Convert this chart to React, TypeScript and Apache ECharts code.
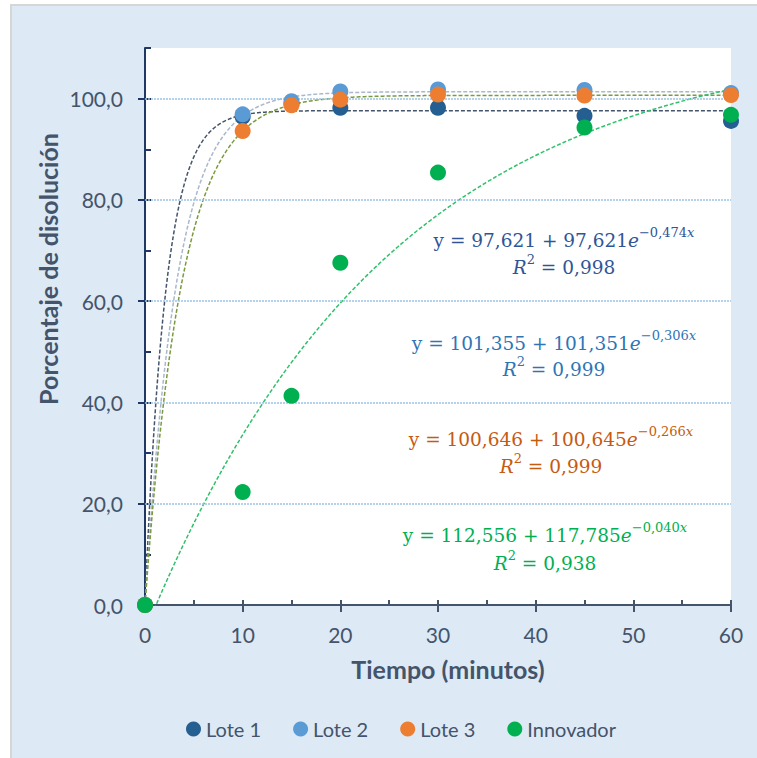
import React, { useEffect, useRef } from 'react';
import * as echarts from 'echarts';

// Sampling times (minutes)
const times = [0, 10, 15, 20, 30, 45, 60];
// Dissolution percentages
const lote1 = [0, 96.4, 99.0, 98.2, 98.2, 96.6, 95.6];
const lote2 = [0, 96.9, 99.5, 101.4, 101.8, 101.7, 101.1];
const lote3 = [0, 93.6, 98.7, 99.8, 100.8, 100.6, 100.7];
const innovador = [0, 22.3, 41.3, 67.6, 85.4, 94.3, 96.8];

const seriesNames = ['Lote 1', 'Lote 2', 'Lote 3', 'Innovador'];
const markerColors = ['#255e91', '#5b9bd5', '#ed7d31', '#00b050'];
const trendColors = ['#44546a', '#a9b8cc', '#7a9a3e', '#2fc06a'];
const eqColors = ['#2f5597', '#2e75b6', '#c55a11', '#00b050'];

// Fitted trend parameters shown on the chart: y = a - b e^(-k x)
const trendA = [97.621, 101.355, 100.646, 112.556];
const trendB = [97.621, 101.351, 100.645, 117.785];
const trendK = [0.474, 0.306, 0.266, 0.040];
const eqA = ['97,621', '101,355', '100,646', '112,556'];
const eqB = ['97,621', '101,351', '100,645', '117,785'];
const eqK = ['0,474', '0,306', '0,266', '0,040'];
const eqR2 = ['0,998', '0,999', '0,999', '0,938'];

const yLabelValues = [0, 20, 40, 60, 80, 100];
const gridValues = [20, 40, 60, 80, 100];

const eqPos = [
  [564, 240, 267],
  [554, 343, 369],
  [551, 439, 466],
  [545, 535, 563],
];

export default function App() {
  const ref = useRef<HTMLDivElement>(null);
  useEffect(() => {
    document.body.style.margin = '0';
    const chart = echarts.init(ref.current!, null, { renderer: 'svg' });
    const data = [lote1, lote2, lote3, innovador];
    const trendX: number[] = [];
    for (let i = 0; i <= 600; i++) trendX.push(i / 10);

    const trendSeries = data.map((_, s) => ({
      type: 'line',
      name: 'Tendencia ' + seriesNames[s],
      xAxisIndex: 0,
      yAxisIndex: 0,
      showSymbol: false,
      symbol: 'none',
      silent: true,
      clip: true,
      z: 2,
      lineStyle: { color: trendColors[s], width: 1.5, type: [4, 2] },
      data: trendX.map((x) => [x, trendA[s] - trendB[s] * Math.exp(-trendK[s] * x)]),
    }));

    const scatterSeries = data.map((vals, s) => ({
      type: 'scatter',
      name: seriesNames[s],
      xAxisIndex: 0,
      yAxisIndex: 0,
      symbol: 'circle',
      symbolSize: 16,
      z: 5,
      itemStyle: { color: markerColors[s], opacity: 1 },
      data: vals.map((v, i) => [times[i], v]),
    }));

    const fam = 'DejaVu Serif';
    const rich = {
      m: { fontSize: 18.5, fontFamily: fam, lineHeight: 28 },
      i: { fontSize: 18.5, fontFamily: fam, fontStyle: 'italic', lineHeight: 28 },
      s: { fontSize: 13, fontFamily: fam, lineHeight: 15, verticalAlign: 'top' },
      si: { fontSize: 13, fontFamily: fam, fontStyle: 'italic', lineHeight: 15, verticalAlign: 'top' },
    };
    const eqGraphics: any[] = [];
    for (let s = 0; s < 4; s++) {
      eqGraphics.push({
        type: 'text',
        x: eqPos[s][0],
        y: eqPos[s][1],
        silent: true,
        style: {
          text: `{m|y = ${eqA[s]} + ${eqB[s]}}{i|e}{s|\u2212${eqK[s]}}{si|x}`,
          rich,
          fill: eqColors[s],
          align: 'center',
          verticalAlign: 'middle',
        },
      });
      eqGraphics.push({
        type: 'text',
        x: eqPos[s][0],
        y: eqPos[s][2],
        silent: true,
        style: {
          text: `{i|R}{s|2}{m| = ${eqR2[s]}}`,
          rich,
          fill: eqColors[s],
          align: 'center',
          verticalAlign: 'middle',
        },
      });
    }

    const axisColor = '#44546a';
    const labelFont = 'Lato';

    chart.setOption({
      animation: false,
      backgroundColor: '#ffffff',
      grid: {
        left: 145,
        right: 26,
        top: 48,
        bottom: 153,
        show: true,
        backgroundColor: '#ffffff',
        borderWidth: 0,
      },
      legend: {
        data: seriesNames,
        left: 181,
        top: 714,
        icon: 'circle',
        itemWidth: 15,
        itemHeight: 15,
        itemGap: 32,
        textStyle: { color: axisColor, fontSize: 20, fontFamily: labelFont },
      },
      xAxis: [
        {
          type: 'value',
          min: 0,
          max: 60,
          interval: 10,
          position: 'bottom',
          axisLine: { show: true, onZero: false, lineStyle: { color: axisColor, width: 2 } },
          axisTick: { show: true, inside: false, length: 7, lineStyle: { color: axisColor, width: 2 } },
          axisLabel: { color: axisColor, fontSize: 21, fontFamily: labelFont, margin: 19 },
          splitLine: { show: false },
        },
        {
          type: 'value',
          min: 0,
          max: 60,
          interval: 5,
          position: 'bottom',
          axisLine: { show: false, onZero: false },
          axisTick: { show: true, inside: true, length: 5, lineStyle: { color: axisColor, width: 2 } },
          axisLabel: { show: false },
          splitLine: { show: false },
        },
      ],
      yAxis: [
        {
          type: 'value',
          min: 0,
          max: 110,
          interval: 10,
          position: 'left',
          axisLine: { show: true, onZero: false, lineStyle: { color: '#203864', width: 2 } },
          axisTick: {
            show: true,
            inside: false,
            length: 7,
            customValues: yLabelValues,
            lineStyle: { color: '#203864', width: 2 },
          },
          axisLabel: {
            customValues: yLabelValues,
            color: axisColor,
            fontSize: 21,
            fontFamily: labelFont,
            margin: 22,
            formatter: (v: number) => v.toFixed(1).replace('.', ','),
          },
          splitLine: { show: false },
        },
        {
          type: 'value',
          min: 0,
          max: 110,
          interval: 10,
          position: 'left',
          axisLine: { show: false, onZero: false },
          axisTick: { show: true, inside: true, length: 6, lineStyle: { color: '#203864', width: 2 } },
          axisLabel: { show: false },
          splitLine: { show: false },
        },
      ],
      series: [
        {
          type: 'line',
          name: 'grid',
          data: [],
          silent: true,
          z: 1,
          markLine: {
            silent: true,
            symbol: ['none', 'none'],
            label: { show: false },
            lineStyle: { color: '#9dc3e6', width: 1.5, type: [2, 1] },
            data: gridValues.map((v) => ({ yAxis: v })),
          },
        },
        ...trendSeries,
        ...scatterSeries,
      ],
      graphic: [
        {
          type: 'rect',
          z: -100,
          silent: true,
          shape: { x: 11, y: 5, width: 770, height: 770 },
          style: { fill: '#dde9f5', stroke: '#d6d6d6', lineWidth: 2 },
        },
        {
          type: 'text',
          x: 448,
          y: 669,
          silent: true,
          style: {
            text: 'Tiempo (minutos)',
            font: 'bold 25px Lato',
            fill: axisColor,
            align: 'center',
            verticalAlign: 'middle',
          },
        },
        {
          type: 'text',
          x: 48,
          y: 269,
          rotation: Math.PI / 2,
          silent: true,
          style: {
            text: 'Porcentaje de disolución',
            font: 'bold 25px Lato',
            fill: axisColor,
            align: 'center',
            verticalAlign: 'middle',
          },
        },
        ...eqGraphics,
      ],
    });
    return () => chart.dispose();
  }, []);
  return <div ref={ref} style={{ width: 757, height: 758 }} />;
}
